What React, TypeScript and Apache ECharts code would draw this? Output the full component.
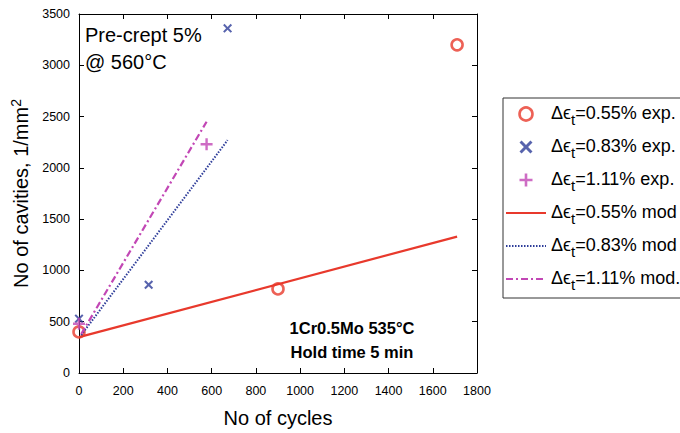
import React, { useEffect, useRef } from "react";
import * as echarts from "echarts";

const xTicks = { min: 0, max: 1800, interval: 200 };
const yTicks = { min: 0, max: 3500, interval: 500 };

const exp055: number[][] = [[0, 400], [900, 820], [1710, 3200]];
const exp083: number[][] = [[0, 530], [315, 860], [672, 3360]];
const exp111: number[][] = [[0, 480], [577, 2230]];
const mod055: number[][] = [[0, 350], [1710, 1330]];
const mod083: number[][] = [[10, 370], [672, 2270]];
const mod111: number[][] = [[10, 380], [577, 2450]];

const seriesNames = [
  "0.55% exp.",
  "0.83% exp.",
  "1.11% exp.",
  "0.55% mod",
  "0.83% mod",
  "1.11% mod.",
];

const RED = "#e8392c";
const BLUE = "#2d3c99";
const MAG = "#c247b5";
const FONT = "'Liberation Sans', Arial, Helvetica, sans-serif";

const PLUS = "path://M4,0H6V4H10V6H6V10H4V6H0V4H4Z";
const CROSS = "path://M0,1.6L1.6,0L5,3.4L8.4,0L10,1.6L6.6,5L10,8.4L8.4,10L5,6.6L1.6,10L0,8.4L3.4,5Z";

const CHART_W = 780;

export default function App() {
  const ref = useRef<HTMLDivElement>(null);
  useEffect(() => {
    if (!ref.current) return;
    const chart = echarts.init(ref.current, null, { renderer: "svg" });
    const axisCommon = {
      axisLine: { show: true, onZero: false, lineStyle: { color: "#000", width: 1 } },
      axisTick: { show: true, inside: true, length: 5, lineStyle: { color: "#000" } },
      splitLine: { show: false },
    };
    const plain = (v: number) => String(v);
    chart.setOption({
      animation: false,
      backgroundColor: "#fff",
      textStyle: { fontFamily: FONT },
      grid: { left: 79, right: CHART_W - 477, top: 14, bottom: 55 },
      xAxis: [
        {
          type: "value",
          ...xTicks,
          ...axisCommon,
          axisLabel: { color: "#000", fontSize: 12.5, margin: 11, fontFamily: FONT, formatter: plain },
          name: "No of cycles",
          nameLocation: "middle",
          nameGap: 35,
          nameTextStyle: { fontSize: 20, color: "#000", fontFamily: FONT },
        },
        {
          type: "value",
          position: "top",
          ...xTicks,
          ...axisCommon,
          axisLabel: { show: false },
        },
      ],
      yAxis: [
        {
          type: "value",
          ...yTicks,
          ...axisCommon,
          axisLabel: { color: "#000", fontSize: 12.5, margin: 9, fontFamily: FONT, formatter: plain },
          name: "{a|No of cavities, 1/mm}{b|2}",
          nameLocation: "middle",
          nameGap: 39,
          nameTextStyle: {
            color: "#000",
            fontFamily: FONT,
            rich: {
              a: { fontSize: 20, lineHeight: 24, color: "#000", fontFamily: FONT },
              b: { fontSize: 14, lineHeight: 14, verticalAlign: "top", color: "#000", fontFamily: FONT },
            },
          },
        },
        {
          type: "value",
          position: "right",
          ...yTicks,
          ...axisCommon,
          axisLabel: { show: false },
        },
      ],
      legend: {
        orient: "vertical",
        left: 503,
        top: 98,
        padding: [6, 20, 6, 2],
        itemGap: 10,
        itemWidth: 40,
        itemHeight: 13,
        itemTextGap: 4,
        borderColor: "#333",
        borderWidth: 1,
        backgroundColor: "#fff",
        data: [
          { name: seriesNames[0], itemStyle: { color: "rgba(255,255,255,0)", borderColor: RED, borderWidth: 2.6 } },
          { name: seriesNames[1] },
          { name: seriesNames[2] },
          { name: seriesNames[3], itemStyle: { opacity: 0 } },
          { name: seriesNames[4], itemStyle: { opacity: 0 } },
          { name: seriesNames[5], itemStyle: { opacity: 0 } },
        ],
        formatter: (name: string) => `{a|\u0394\u03f5}{s|t}{a|=${name}}`,
        textStyle: {
          color: "#000",
          fontFamily: FONT,
          rich: {
            a: { fontSize: 18, lineHeight: 20, verticalAlign: "top", color: "#000", fontFamily: FONT },
            s: { fontSize: 15, lineHeight: 16, padding: [8, 0, 0, 0], verticalAlign: "top", color: "#000", fontFamily: FONT },
          },
        },
      },
      series: [
        {
          name: seriesNames[0],
          type: "scatter",
          data: exp055,
          symbol: "circle",
          symbolSize: 11,
          itemStyle: { color: "rgba(255,255,255,0)", borderColor: RED, borderWidth: 2.6 },
        },
        {
          name: seriesNames[1],
          type: "scatter",
          data: exp083,
          symbol: CROSS,
          symbolSize: 9,
          itemStyle: { color: BLUE },
        },
        {
          name: seriesNames[2],
          type: "scatter",
          data: exp111,
          symbol: PLUS,
          symbolSize: 12,
          itemStyle: { color: MAG },
        },
        {
          name: seriesNames[3],
          type: "line",
          data: mod055,
          symbol: "none",
          itemStyle: { color: RED },
          lineStyle: { color: RED, width: 2.2, type: "solid" },
        },
        {
          name: seriesNames[4],
          type: "line",
          data: mod083,
          symbol: "none",
          itemStyle: { color: BLUE },
          lineStyle: { color: BLUE, width: 2, type: [1.5, 1.5] },
        },
        {
          name: seriesNames[5],
          type: "line",
          data: mod111,
          symbol: "none",
          itemStyle: { color: MAG },
          lineStyle: { color: MAG, width: 2.2, type: [7, 3, 2, 3] },
        },
      ],
      graphic: [
        {
          type: "text",
          left: 85,
          top: 25,
          style: { text: "Pre-crept 5%", fontSize: 20, fontFamily: FONT, fill: "#000" },
        },
        {
          type: "text",
          left: 85,
          top: 52,
          style: { text: "@ 560\u00b0C", fontSize: 20, fontFamily: FONT, fill: "#000" },
        },
        {
          type: "text",
          x: 352,
          y: 328,
          style: {
            text: "1Cr0.5Mo 535\u00b0C",
            fontSize: 16.5,
            fontWeight: "bold",
            fontFamily: FONT,
            fill: "#000",
            align: "center",
            verticalAlign: "middle",
          },
        },
        {
          type: "text",
          x: 352,
          y: 352,
          style: {
            text: "Hold time 5 min",
            fontSize: 16.5,
            fontWeight: "bold",
            fontFamily: FONT,
            fill: "#000",
            align: "center",
            verticalAlign: "middle",
          },
        },
      ],
    });
    return () => chart.dispose();
  }, []);
  return (
    <div style={{ position: "absolute", left: 0, top: 0, width: 680, height: 433, overflow: "hidden" }}>
      <div ref={ref} style={{ width: CHART_W, height: 433 }} />
    </div>
  );
}
